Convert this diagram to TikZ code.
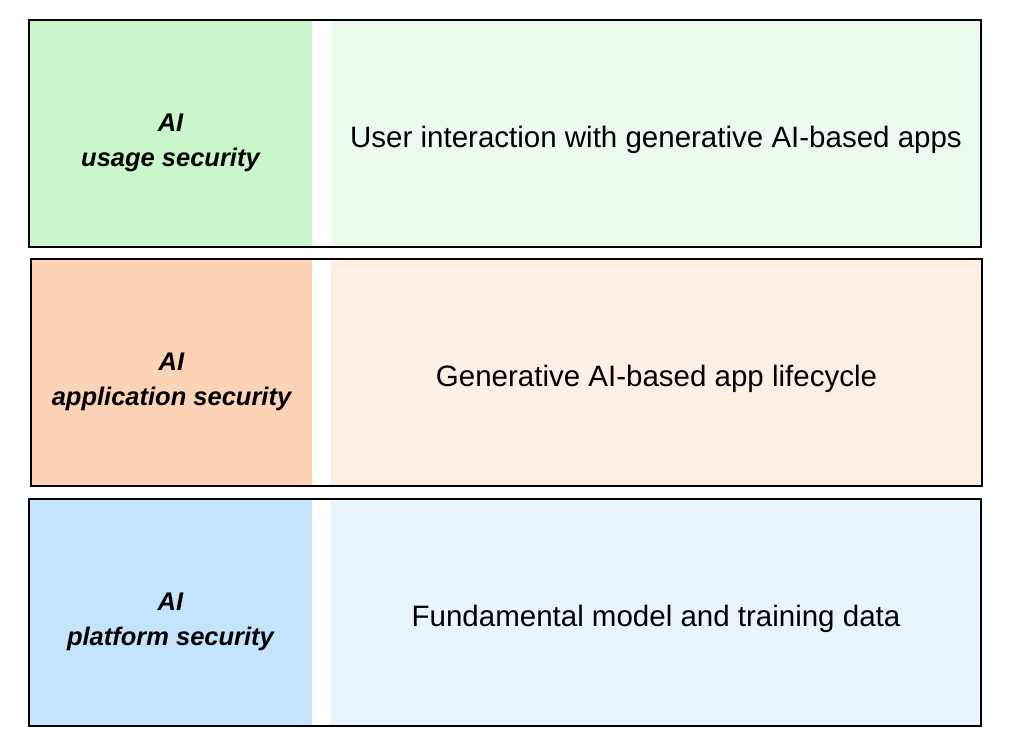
\documentclass[tikz,border=0pt]{standalone}
\usepackage{fontspec}
\setmainfont{Liberation Sans}

\definecolor{usagedark}{HTML}{CAF6CB}
\definecolor{usagelight}{HTML}{EBFAEC}
\definecolor{appdark}{HTML}{FDD3B6}
\definecolor{applight}{HTML}{FDEFE4}
\definecolor{platdark}{HTML}{C4E4FE}
\definecolor{platlight}{HTML}{E8F4FE}

\tikzset{
    titlepanel/.style={inner sep=0pt, minimum width=283pt, minimum height=227pt},
    textpanel/.style={inner sep=0pt, minimum width=650pt, minimum height=227pt},
    layertitle/.style={align=center, yshift=-9.5pt,
        font={\fontsize{25.5}{35}\selectfont\bfseries\itshape}},
    layertext/.style={align=center, yshift=-6pt,
        font={\fontsize{29.5}{34}\selectfont}},
    layerframe/.style={draw=black, line width=2.5pt}
}

\begin{document}
\begin{tikzpicture}[x=1pt, y=-1pt]
    \useasboundingbox (0,0) rectangle (1018,745);

    % usage layer
    \node[titlepanel, fill=usagedark] (usageleft) at (170.5, 133.5) {};
    \node[textpanel, fill=usagelight] (usageright) at (656, 133.5) {};
    \draw[layerframe] (usageleft.north west) rectangle (usageright.south east);
    \node[layertitle] (usagetitle) at (usageleft.center) {AI\\usage security};
    \node[layertext] (usagetext) at (usageright.center) {User interaction with generative AI-based apps};

    % application layer
    \node[titlepanel, minimum width=281pt, fill=appdark] (appleft) at (171.5, 372.5) {};
    \node[textpanel, minimum width=651pt, fill=applight] (appright) at (656.5, 372.5) {};
    \draw[layerframe] (appleft.north west) rectangle (appright.south east);
    \node[layertitle] (apptitle) at (appleft.center) {AI\\application security};
    \node[layertext] (apptext) at (appright.center) {Generative AI-based app lifecycle};

    % platform layer
    \node[titlepanel, fill=platdark] (platleft) at (170.5, 612.5) {};
    \node[textpanel, fill=platlight] (platright) at (656, 612.5) {};
    \draw[layerframe] (platleft.north west) rectangle (platright.south east);
    \node[layertitle] (plattitle) at (platleft.center) {AI\\platform security};
    \node[layertext] (plattext) at (platright.center) {Fundamental model and training data};

\end{tikzpicture}
\end{document}
